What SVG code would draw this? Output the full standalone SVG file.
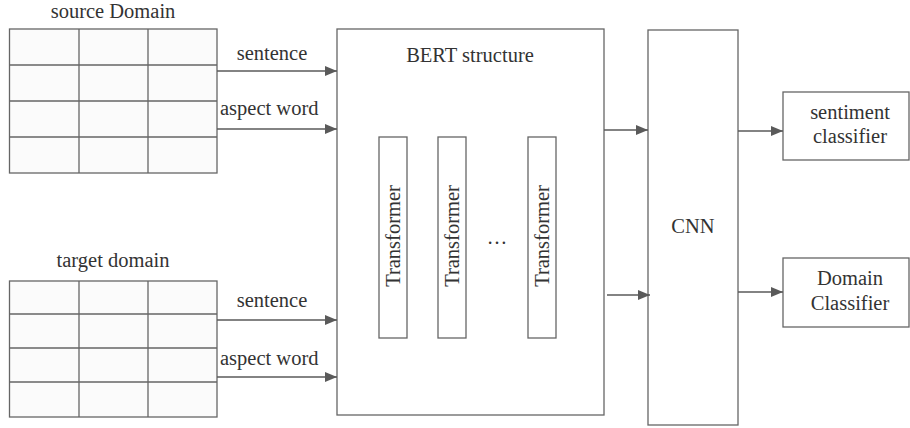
<svg xmlns="http://www.w3.org/2000/svg" width="910" height="428" viewBox="0 0 910 428">
<style>
.box{fill:#ffffff;stroke:#666666;stroke-width:1.3}
.grid{fill:#fbfbfb;stroke:#666666;stroke-width:1.3}
.gl{stroke:#666666;stroke-width:1.3;fill:none}
.t{font-family:"Liberation Serif",serif;font-size:20.5px;fill:#333333}
.m{text-anchor:middle}
.c{stroke:#5a5a5a;stroke-width:1.3;fill:none;marker-end:url(#ah)}
</style>
<defs>
<marker id="ah" markerWidth="12" markerHeight="10" refX="12" refY="5" orient="auto" markerUnits="userSpaceOnUse">
<path d="M0,0 L12,5 L0,10 Z" fill="#5a5a5a"/>
</marker>
</defs>
<rect width="910" height="428" fill="#ffffff"/>
<g id="source">
<text class="t m" x="113" y="18">source Domain</text>
<rect class="grid" x="9.5" y="29" width="207.5" height="144"/>
<path class="gl" d="M79,29V173M148,29V173M9.5,65H217M9.5,101H217M9.5,137H217"/>
</g>
<g id="target">
<text class="t m" x="113" y="267">target domain</text>
<rect class="grid" x="9.5" y="281" width="207.5" height="136"/>
<path class="gl" d="M79,281V417M148,281V417M9.5,314H217M9.5,348H217M9.5,382H217"/>
</g>
<g id="bert">
<rect class="box" x="337" y="29" width="267" height="386"/>
<text class="t m" x="470" y="62">BERT structure</text>
</g>
<g id="transformer1">
<rect class="box" x="379" y="137" width="28" height="201"/>
<text class="t m" transform="translate(400,236) rotate(-90)">Transformer</text>
</g>
<g id="transformer2">
<rect class="box" x="438" y="137" width="28" height="201"/>
<text class="t m" transform="translate(459,236) rotate(-90)">Transformer</text>
</g>
<text class="t m" x="497" y="244">…</text>
<g id="transformer3">
<rect class="box" x="528" y="137" width="28" height="201"/>
<text class="t m" transform="translate(549,236) rotate(-90)">Transformer</text>
</g>
<g id="cnn">
<rect class="box" x="648" y="30" width="90" height="395"/>
<text class="t m" x="693" y="233">CNN</text>
</g>
<g id="sentiment">
<rect class="box" x="783" y="92" width="126" height="68"/>
<text class="t m" x="850" y="119">sentiment</text>
<text class="t m" x="850" y="143">classifier</text>
</g>
<g id="domain">
<rect class="box" x="783" y="258" width="126" height="69"/>
<text class="t m" x="850" y="285">Domain</text>
<text class="t m" x="850" y="310">Classifier</text>
</g>
<g id="connectors">
<line class="c" x1="217" y1="71" x2="337" y2="71"/>
<line class="c" x1="217" y1="129" x2="337" y2="129"/>
<line class="c" x1="217" y1="320" x2="337" y2="320"/>
<line class="c" x1="217" y1="377" x2="337" y2="377"/>
<line class="c" x1="604" y1="130" x2="648" y2="130"/>
<line class="c" x1="607" y1="295" x2="650" y2="295"/>
<line class="c" x1="738" y1="131" x2="783" y2="131"/>
<line class="c" x1="738" y1="292" x2="783" y2="292"/>
<text class="t m" x="272" y="60">sentence</text>
<text class="t" x="220" y="115">aspect word</text>
<text class="t m" x="272" y="307">sentence</text>
<text class="t" x="220" y="365">aspect word</text>
</g>
</svg>
